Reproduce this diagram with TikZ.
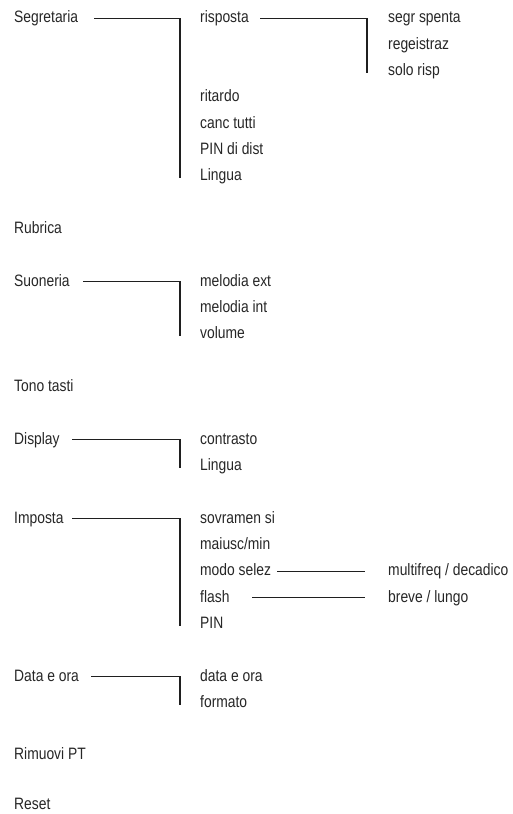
\documentclass[tikz,border=0pt]{standalone}
\usepackage{fontspec}
\setmainfont{Liberation Sans}[FakeStretch=0.84]
\begin{document}
\begin{tikzpicture}[x=1pt,y=-1pt,
  lbl/.style={anchor=west, inner sep=0pt, text height=12pt, text depth=3.5pt,
    font=\fontsize{16.5}{16.5}\selectfont, text=black!85},
  conn/.style={line width=1.2pt, draw=black!88}]
\useasboundingbox (0,0) rectangle (512,814);
% column 0
\node[lbl] (seg)  at (14,18.5)  {Segretaria};
\node[lbl] (rub)  at (14,229.2) {Rubrica};
\node[lbl] (suo)  at (14,281.8) {Suoneria};
\node[lbl] (ton)  at (14,387.1) {Tono tasti};
\node[lbl] (dis)  at (14,439.8) {Display};
\node[lbl] (imp)  at (14,518.8) {Imposta};
\node[lbl] (dat)  at (14,676.8) {Data e ora};
\node[lbl] (rim)  at (14,755.7) {Rimuovi PT};
\node[lbl, text depth=0pt] (res) at (14,803.6) {Reset};
% column 1
\node[lbl] (risp) at (200,18.5)  {risposta};
\node[lbl] (rit)  at (200,97.5)  {ritardo};
\node[lbl] (canc) at (200,123.8) {canc tutti};
\node[lbl] (pind) at (200,150.2) {PIN di dist};
\node[lbl] (lin1) at (200,176.5) {Lingua};
\node[lbl] (mex)  at (200,281.8) {melodia ext};
\node[lbl] (mint) at (200,308.1) {melodia int};
\node[lbl] (vol)  at (200,334.5) {volume};
\node[lbl] (con)  at (200,439.8) {contrasto};
\node[lbl] (lin2) at (200,466.1) {Lingua};
\node[lbl] (sov)  at (200,518.8) {sovramen si};
\node[lbl] (mai)  at (200,545.1) {maiusc/min};
\node[lbl] (mod)  at (200,571.4) {modo selez};
\node[lbl] (fla)  at (200,597.8) {flash};
\node[lbl] (pin)  at (200,624.1) {PIN};
\node[lbl] (dao)  at (200,676.8) {data e ora};
\node[lbl] (for)  at (200,703.1) {formato};
% column 2
\node[lbl] (sgs)  at (388,18.5)  {segr spenta};
\node[lbl] (reg)  at (388,44.8)  {regeistraz};
\node[lbl] (sol)  at (388,71.2)  {solo risp};
\node[lbl] (mul)  at (388,571.4) {multifreq / decadico};
\node[lbl] (bre)  at (388,597.8) {breve / lungo};
% connectors
\draw[conn] ([xshift=80pt]seg.west) -- (180,0 |- seg.west) -- ([yshift=-1.5pt]180,0 |- lin1.west);
\draw[conn] ([xshift=60pt]risp.west) -- (367,0 |- risp.west) -- ([yshift=-1.5pt]367,0 |- sol.west);
\draw[conn] ([xshift=69pt]suo.west) -- (180,0 |- suo.west) -- ([yshift=-1.5pt]180,0 |- vol.west);
\draw[conn] ([xshift=58pt]dis.west) -- (180,0 |- dis.west) -- ([yshift=-1.5pt]180,0 |- lin2.west);
\draw[conn] ([xshift=58pt]imp.west) -- (180,0 |- imp.west) -- ([yshift=-1.5pt]180,0 |- pin.west);
\draw[conn] ([xshift=77pt]dat.west) -- (180,0 |- dat.west) -- ([yshift=-1.5pt]180,0 |- for.west);
\draw[conn] ([xshift=77pt]mod.west) -- ([xshift=-23pt]mul.west);
\draw[conn] ([xshift=52pt]fla.west) -- ([xshift=-23pt]bre.west);
\end{tikzpicture}
\end{document}
